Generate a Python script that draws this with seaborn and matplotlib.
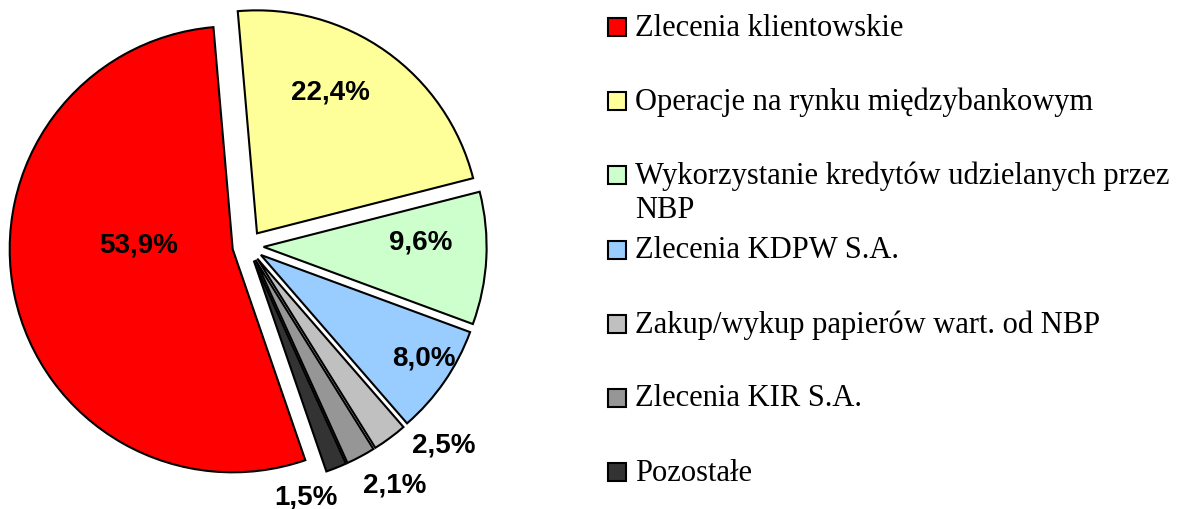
import matplotlib
matplotlib.use("Agg")
import matplotlib.pyplot as plt
import seaborn as sns
import numpy as np

categories = ["Zlecenia klientowskie",
              "Operacje na rynku międzybankowym",
              "Wykorzystanie kredytów udzielanych przez\nNBP",
              "Zlecenia KDPW S.A.",
              "Zakup/wykup papierów wart. od NBP",
              "Zlecenia KIR S.A.",
              "Pozostałe"]
shares = [53.9, 22.4, 9.6, 8.0, 2.5, 2.1, 1.5]
colors = ["#FF0000", "#FFFF99", "#CCFFCC", "#99CCFF", "#C0C0C0", "#969696", "#333333"]

# label placement (distance from wedge apex, angle tweak in degrees)
label_dist = [0.44, 0.71, 0.69, 0.85, 1.17, 1.18, 1.08]
label_shift = [-15, 9, 5, 2, 8, 3, -10]

sns.set_theme(style="white")
plt.rcParams["font.family"] = ["Liberation Sans", "DejaVu Sans"]

W, H = 1184, 510
fig = plt.figure(figsize=(W / 100, H / 100), dpi=100)
fig.patch.set_facecolor("white")

ax = fig.add_axes([0, 0, 500 / W, 1])
wedges, _ = ax.pie(shares, colors=colors, startangle=-71, counterclock=False,
                   explode=[0.07] * len(shares),
                   wedgeprops=dict(edgecolor="black", linewidth=1.5))
ax.set_aspect("auto")
ax.set_xlim(-1.112, 1.130)
ax.set_ylim(-1.179, 1.108)
ax.axis("off")

for w, v, d, s in zip(wedges, shares, label_dist, label_shift):
    th = np.deg2rad((w.theta1 + w.theta2) / 2 + s)
    cx, cy = w.center
    ax.text(cx + d * np.cos(th) + 0.015, cy + d * np.sin(th),
            f"{v:.1f}%".replace(".", ","), ha="center", va="center",
            fontsize=20, fontweight="bold", color="black")

# legend drawn by hand (Excel style: fixed step, wrapped line hangs below)
serif = ["Liberation Serif", "DejaVu Serif"]
y0, step, line_gap = 28, 74.2, 34
for i, (lab, col) in enumerate(zip(categories, colors)):
    yc = y0 + i * step
    fig.add_artist(plt.Rectangle((608 / W, 1 - (yc + 9) / H), 18 / W, 18 / H,
                                 transform=fig.transFigure, facecolor=col,
                                 edgecolor="black", linewidth=1.5))
    for j, line in enumerate(lab.split("\n")):
        fig.text(635 / W, 1 - (yc + j * line_gap) / H, line, ha="left",
                 va="center", fontsize=22, family=serif, color="black")

fig.savefig("out.png", dpi=100, facecolor="white")
